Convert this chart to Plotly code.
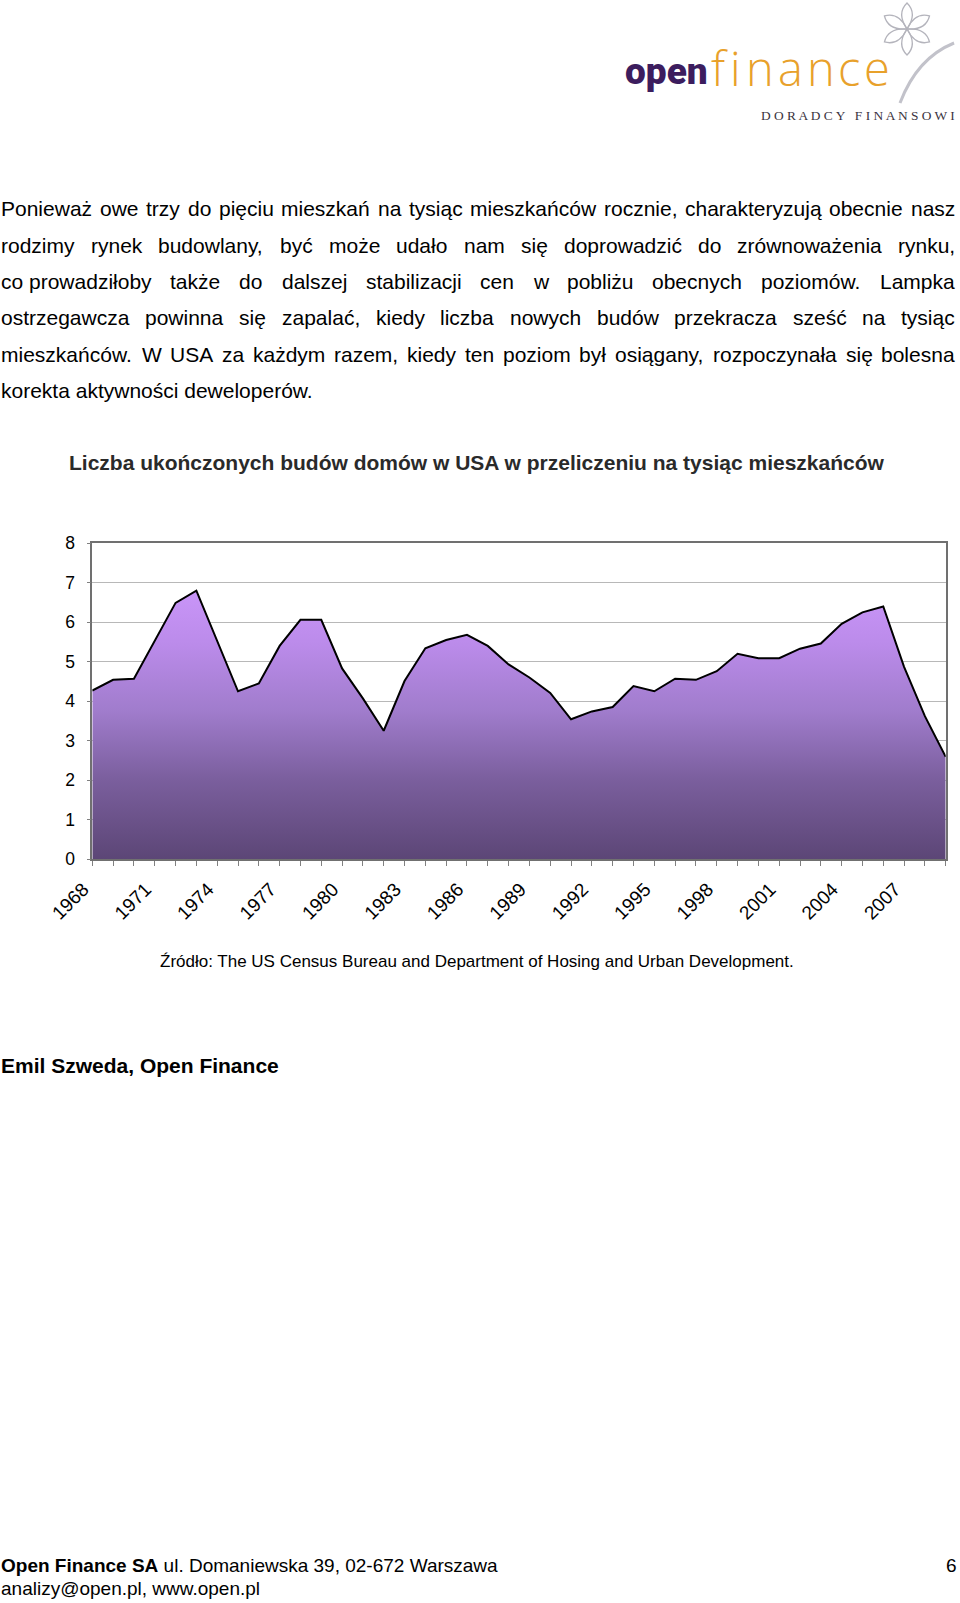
import math
import plotly.graph_objects as go

# ---------------- data ----------------
years = list(range(1968, 2010))
completions = [4.27, 4.54, 4.57, 5.53, 6.49, 6.80, 5.51, 4.25, 4.45, 5.40,
               6.06, 6.06, 4.83, 4.07, 3.25, 4.51, 5.34, 5.55, 5.68, 5.40,
               4.93, 4.60, 4.21, 3.54, 3.74, 3.85, 4.38, 4.25, 4.57, 4.54,
               4.76, 5.20, 5.09, 5.09, 5.33, 5.46, 5.96, 6.25, 6.40, 4.87,
               3.62, 2.59]
tick_years = [1968, 1971, 1974, 1977, 1980, 1983, 1986, 1989, 1992, 1995,
              1998, 2001, 2004, 2007]
tick_labels = ["1968", "1971", "1974", "1977", "1980", "1983", "1986", "1989",
               "1992", "1995", "1998", "2001", "2004", "2007"]
y_ticks = [0, 1, 2, 3, 4, 5, 6, 7, 8]

chart_title = "Liczba ukończonych budów domów w USA w przeliczeniu na tysiąc mieszkańców"
source_text = "Źródło: The US Census Bureau and Department of Hosing and Urban Development."
paragraph_lines = [
    "Ponieważ owe trzy do pięciu mieszkań na tysiąc mieszkańców rocznie, charakteryzują obecnie nasz",
    "rodzimy rynek budowlany, być może udało nam się doprowadzić do zrównoważenia rynku,",
    "co\u00a0prowadziłoby także do dalszej stabilizacji cen w pobliżu obecnych poziomów. Lampka",
    "ostrzegawcza powinna się zapalać, kiedy liczba nowych budów przekracza sześć na tysiąc",
    "mieszkańców. W USA za każdym razem, kiedy ten poziom był osiągany, rozpoczynała się bolesna",
    "korekta aktywności deweloperów.",
]
author = "Emil Szweda, Open Finance"
footer_bold = "Open Finance SA"
footer_rest = " ul. Domaniewska 39, 02-672 Warszawa"
footer_line2 = "analizy@open.pl, www.open.pl"
page_no = "6"
logo_word1 = "open"
logo_word2 = "finance"
logo_tagline = "D O R A D C Y \u2002F I N A N S O W I"

# ---------------- page geometry ----------------
W, H = 960, 1603


def px(x):
    return x / W


def py(y):
    return 1 - y / H


PLOT_L, PLOT_R, PLOT_T, PLOT_B = 92.3, 945.7, 543.3, 859.0

# Arial / Liberation Sans advance widths (1/1000 em)
AR = {' ': 278, '\u00a0': 278, ',': 278, '.': 278, ':': 278, '-': 333, '@': 1015,
      'A': 667, 'B': 667, 'C': 722, 'D': 722, 'E': 667, 'F': 611, 'G': 778, 'H': 722,
      'I': 278, 'J': 500, 'K': 667, 'L': 556, 'M': 833, 'N': 722, 'O': 778, 'P': 667,
      'Q': 778, 'R': 722, 'S': 667, 'T': 611, 'U': 722, 'V': 667, 'W': 944, 'X': 667,
      'Y': 667, 'Z': 611,
      'a': 556, 'b': 556, 'c': 500, 'd': 556, 'e': 556, 'f': 278, 'g': 556, 'h': 556,
      'i': 222, 'j': 222, 'k': 500, 'l': 222, 'm': 833, 'n': 556, 'o': 556, 'p': 556,
      'q': 556, 'r': 333, 's': 500, 't': 278, 'u': 556, 'v': 500, 'w': 722, 'x': 500,
      'y': 500, 'z': 500,
      'ą': 556, 'ć': 500, 'ę': 556, 'ł': 222, 'ń': 556, 'ó': 556, 'ś': 500, 'ź': 500, 'ż': 500}

# approximate Open Sans Light advance widths (1/2048 em, scaled)
OS = {'f': 694, 'i': 518, 'n': 1257, 'a': 1139, 'c': 975, 'e': 1149}


def text_w(s, size):
    return sum(AR.get(c, 556) for c in s) * size / 1000.0


BODY_FONT = "Liberation Sans, Arial, Helvetica, sans-serif"
annotations = []


def add_text(x, y, text, size, color="#000000", xanchor="left", bold=False,
             family=BODY_FONT, weight=None):
    if weight is None:
        weight = 700 if bold else 400
    annotations.append(dict(
        x=px(x), y=py(y), xref="paper", yref="paper", text=text, showarrow=False,
        xanchor=xanchor, yanchor="middle", borderpad=0, borderwidth=0,
        font=dict(family=family, size=size, color=color, weight=weight)))


# justified paragraph
P_SIZE = 21
P_X0, P_X1 = 1.0, 955.0
line_y0, line_step = 208.7, 36.4
for i, line in enumerate(paragraph_lines):
    y = line_y0 + i * line_step
    words = line.split(" ")
    if i == len(paragraph_lines) - 1:
        add_text(P_X0, y, line, P_SIZE)
        continue
    widths = [text_w(w, P_SIZE) for w in words]
    gap = (P_X1 - P_X0 - sum(widths)) / (len(words) - 1)
    x = P_X0
    for w, ww in zip(words, widths):
        add_text(x, y, w, P_SIZE)
        x += ww + gap

# chart title / source / author / footer
add_text(477, 462.5, chart_title, 21, color="#2a2a2a", xanchor="center", bold=True)
add_text(477, 961, source_text, 17, xanchor="center")
add_text(1, 1065.5, author, 21, bold=True)
add_text(1, 1565.3, "<b>" + footer_bold + "</b>" + footer_rest, 19)
add_text(1, 1588, footer_line2, 19)
add_text(957, 1565.3, page_no, 19, xanchor="right")

# logo
add_text(708, 71.5, logo_word1, 37, color="#3c1d5e", xanchor="right",
         family="Roboto, Liberation Sans, sans-serif", weight=900)
F_SIZE, F_X0, F_X1 = 47, 711.0, 888.0
lw = [OS[c] / 2048 * 0.927 * F_SIZE for c in logo_word2]
lgap = (F_X1 - F_X0 - sum(lw)) / (len(logo_word2) - 1)
fx = F_X0
for c, cw in zip(logo_word2, lw):
    add_text(fx, 68, c, F_SIZE, color="#e8a12b",
             family="Open Sans, Liberation Sans, sans-serif", weight=300)
    fx += cw + lgap
add_text(955, 115, logo_tagline, 13.4, color="#3a3340",
         xanchor="right", family="Liberation Serif, DejaVu Serif, serif")

shapes = []
cx, cy = 907.0, 29.0
for k in range(6):
    a = math.radians(90 + k * 60)
    tipx, tipy = cx + 26 * math.cos(a), cy - 26 * math.sin(a)
    al, ar = a + math.radians(34), a - math.radians(34)
    c1x, c1y = cx + 19 * math.cos(al), cy - 19 * math.sin(al)
    c2x, c2y = cx + 19 * math.cos(ar), cy - 19 * math.sin(ar)
    path = "M {:.4f},{:.5f} Q {:.4f},{:.5f} {:.4f},{:.5f} Q {:.4f},{:.5f} {:.4f},{:.5f}".format(
        px(cx), py(cy), px(c1x), py(c1y), px(tipx), py(tipy), px(c2x), py(c2y), px(cx), py(cy))
    shapes.append(dict(type="path", path=path, xref="paper", yref="paper",
                       line=dict(color="#b4b4bc", width=1.3), fillcolor="rgba(0,0,0,0)"))
sw = "M {:.4f},{:.5f} Q {:.4f},{:.5f} {:.4f},{:.5f}".format(
    px(954), py(43), px(917), py(58), px(900), py(103))
shapes.append(dict(type="path", path=sw, xref="paper", yref="paper",
                   line=dict(color="#c2c2ca", width=3)))

# ---------------- chart ----------------
fig = go.Figure()
fig.add_trace(go.Scatter(
    x=years, y=completions, mode="lines", fill="tozeroy",
    line=dict(color="#000000", width=2),
    fillgradient=dict(type="vertical", start=0, stop=max(completions),
                      colorscale=[[0.0, "#5c4676"], [0.3, "#7b5f9e"], [0.55, "#a07ccc"],
                                  [0.8, "#bb8bea"], [1.0, "#c995f8"]]),
    hoverinfo="skip", showlegend=False))

fig.update_layout(
    width=W, height=H, margin=dict(l=0, r=0, t=0, b=0),
    paper_bgcolor="#ffffff", plot_bgcolor="rgba(0,0,0,0)",
    showlegend=False, annotations=annotations, shapes=shapes,
    xaxis=dict(domain=[px(PLOT_L), px(PLOT_R)], range=[years[0], years[-1]],
               tickmode="array", tickvals=tick_years, ticktext=tick_labels,
               tickangle=-45, ticks="outside", ticklen=5, tickcolor="#808080",
               ticklabelshift=-9, ticklabelstandoff=5,
               minor=dict(tickmode="array", tickvals=years, ticks="outside", ticklen=5,
                          tickcolor="#808080", showgrid=False),
               showgrid=False, zeroline=False, showline=True, linecolor="#707070",
               linewidth=1.5, mirror=True, automargin=False,
               tickfont=dict(family=BODY_FONT, size=19, color="#000000")),
    yaxis=dict(domain=[py(PLOT_B), py(PLOT_T)], range=[0, 8],
               tickmode="array", tickvals=y_ticks,
               ticks="outside", ticklen=4, tickcolor="#808080",
               showgrid=True, gridcolor="#b8b8b8", gridwidth=1.2,
               zeroline=False, showline=True, linecolor="#707070", linewidth=1.5,
               mirror=True, automargin=False, ticklabelstandoff=8,
               tickfont=dict(family=BODY_FONT, size=17.5, color="#000000")),
)

fig.write_html("out.html", config={"displayModeBar": False},
               post_script="document.body.style.margin='0';document.body.style.overflow='hidden';")
